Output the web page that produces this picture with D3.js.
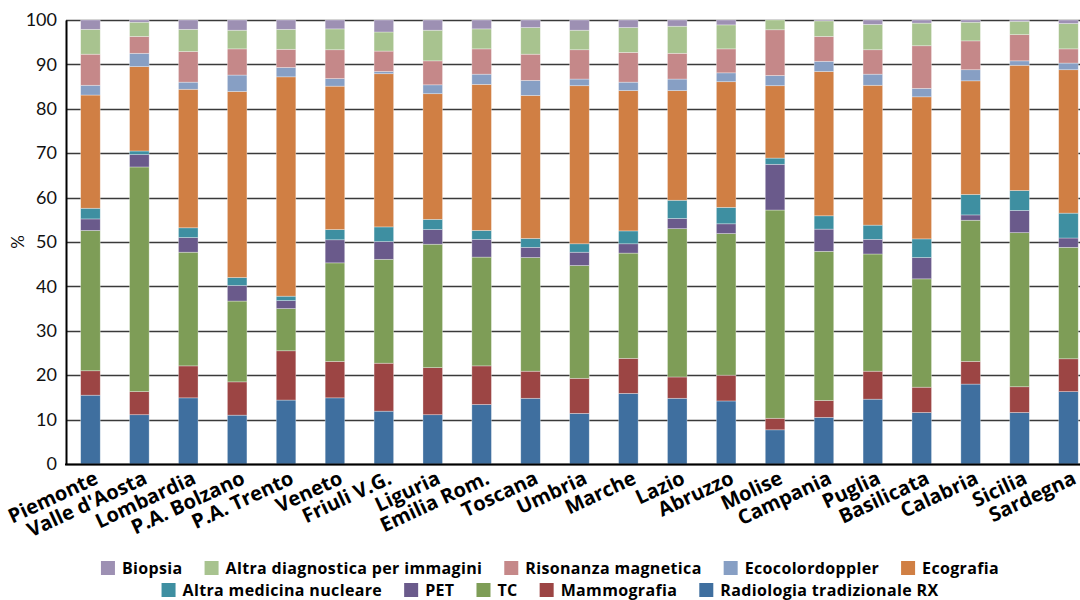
<!DOCTYPE html>
<html>
<head>
<meta charset="utf-8">
<script src="https://cdn.jsdelivr.net/npm/d3@7"></script>
<style>
  html, body { margin: 0; padding: 0; background: #fff; }
  svg { display: block; font-family: "Lato", "Open Sans", sans-serif; }
</style>
</head>
<body>
<svg id="chart" width="1080" height="600"></svg>
<script>
// Regions (x axis)
const regions = ["Piemonte", "Valle d'Aosta", "Lombardia", "P.A. Bolzano", "P.A. Trento", "Veneto",
  "Friuli V.G.", "Liguria", "Emilia Rom.", "Toscana", "Umbria", "Marche", "Lazio", "Abruzzo",
  "Molise", "Campania", "Puglia", "Basilicata", "Calabria", "Sicilia", "Sardegna"];

// Share (%) of each exam type per region, stacked from the bottom up
const radiologiaRX   = [15.5, 11.1, 14.9, 11.0, 14.4, 14.9, 11.9, 11.1, 13.4, 14.8, 11.4, 15.9, 14.8, 14.2,  7.7, 10.5, 14.6, 11.6, 18.0, 11.6, 16.3];
const mammografia    = [ 5.5,  5.2,  7.2,  7.5, 11.1,  8.2, 10.8, 10.6,  8.7,  6.1,  7.9,  7.9,  4.8,  5.8,  2.6,  3.8,  6.3,  5.7,  5.1,  5.8,  7.4];
const tc             = [31.6, 50.6, 25.6, 18.2,  9.5, 22.2, 23.4, 27.8, 24.5, 25.6, 25.4, 23.7, 33.4, 31.9, 46.9, 33.6, 26.4, 24.4, 31.8, 34.7, 25.1];
const pet            = [ 2.6,  2.8,  3.3,  3.5,  1.8,  5.2,  4.0,  3.3,  4.0,  2.3,  3.0,  2.1,  2.3,  2.2, 10.3,  5.0,  3.3,  4.8,  1.2,  5.0,  2.1];
const altraNucleare  = [ 2.4,  0.8,  2.2,  1.8,  1.0,  2.3,  3.3,  2.3,  2.0,  2.0,  1.9,  2.9,  4.1,  3.7,  1.4,  3.0,  3.2,  4.2,  4.6,  4.5,  5.6];
const ecografia      = [25.5, 19.0, 31.2, 41.9, 49.4, 32.3, 34.5, 28.3, 32.9, 32.2, 35.6, 31.6, 24.7, 28.3, 16.3, 32.5, 31.5, 32.0, 25.6, 28.2, 32.3];
const ecocolordoppler= [ 2.2,  3.0,  1.6,  3.7,  2.1,  1.7,  0.5,  2.0,  2.3,  3.4,  1.5,  1.9,  2.6,  2.0,  2.3,  2.3,  2.5,  1.9,  2.5,  1.0,  1.5];
const risonanza      = [ 7.0,  3.8,  6.9,  5.9,  4.1,  6.5,  4.6,  5.4,  5.7,  5.9,  6.6,  6.7,  5.8,  5.4, 10.3,  5.6,  5.5,  9.6,  6.5,  5.9,  3.2];
const altraDiagnost  = [ 5.6,  3.2,  5.0,  4.2,  4.5,  4.7,  4.3,  6.9,  4.5,  6.0,  4.4,  5.6,  6.1,  5.4,  2.2,  3.5,  5.7,  5.1,  4.2,  3.0,  5.7];
const biopsia        = [ 2.1,  0.5,  2.1,  2.3,  2.1,  2.0,  2.7,  2.3,  2.0,  1.7,  2.3,  1.7,  1.4,  1.1,  0.0,  0.2,  1.0,  0.7,  0.5,  0.3,  0.8];

// Y axis ticks
const yTicks = [0, 10, 20, 30, 40, 50, 60, 70, 80, 90, 100];

// Series, bottom of the stack first
const series = [
  { name: "Radiologia tradizionale RX", values: radiologiaRX,    color: "#3f6f9f" },
  { name: "Mammografia",                values: mammografia,     color: "#9c4544" },
  { name: "TC",                         values: tc,              color: "#7e9d57" },
  { name: "PET",                        values: pet,             color: "#6a5a8b" },
  { name: "Altra medicina nucleare",    values: altraNucleare,   color: "#3e8fa1" },
  { name: "Ecografia",                  values: ecografia,       color: "#d07f44" },
  { name: "Ecocolordoppler",            values: ecocolordoppler, color: "#879fc4" },
  { name: "Risonanza magnetica",        values: risonanza,       color: "#c58889" },
  { name: "Altra diagnostica per immagini", values: altraDiagnost, color: "#a8c38f" },
  { name: "Biopsia",                    values: biopsia,         color: "#9d90b3" }
];

// Legend rows, as laid out beneath the chart
const legendRows = [
  ["Biopsia", "Altra diagnostica per immagini", "Risonanza magnetica", "Ecocolordoppler", "Ecografia"],
  ["Altra medicina nucleare", "PET", "TC", "Mammografia", "Radiologia tradizionale RX"]
];

const svg = d3.select("#chart");
const margin = { left: 66, top: 20, bottom: 464 };
const step = 48.9;

const x = d3.scaleBand()
  .domain(regions)
  .range([margin.left, margin.left + step * regions.length])
  .paddingInner(0.6)
  .paddingOuter(0.3);

const y = d3.scaleLinear().domain([0, 100]).range([margin.bottom, margin.top]);

// Table for the stack layout
const table = regions.map((r, i) => {
  const row = { region: r };
  series.forEach(s => { row[s.name] = s.values[i]; });
  return row;
});
const stacked = d3.stack().keys(series.map(s => s.name))(table);

const xRight = margin.left + step * regions.length;

// Horizontal gridlines
svg.append("g")
  .selectAll("line")
  .data(yTicks)
  .join("line")
  .attr("x1", margin.left)
  .attr("x2", xRight)
  .attr("y1", d => Math.round(y(d)) + 0.5)
  .attr("y2", d => Math.round(y(d)) + 0.5)
  .attr("stroke", "#3a3a3a")
  .attr("stroke-width", 1.4);

// Stacked bars
svg.append("g")
  .selectAll("g")
  .data(stacked)
  .join("g")
  .attr("fill", (d, i) => series[i].color)
  .selectAll("rect")
  .data(d => d)
  .join("rect")
  .attr("x", d => x(d.data.region))
  .attr("width", x.bandwidth())
  .attr("y", d => y(d[1]))
  .attr("height", d => Math.max(0, y(d[0]) - y(d[1])))
  .attr("stroke", "rgba(255,255,255,0.45)")
  .attr("stroke-width", 0.7);

// Y axis
const yAxis = d3.axisLeft(y).tickValues(yTicks).tickSize(0).tickPadding(9);
const gy = svg.append("g")
  .attr("transform", `translate(${margin.left},0)`)
  .call(yAxis);
gy.select(".domain").attr("stroke", "#000").attr("stroke-width", 2);
gy.selectAll("text")
  .attr("font-family", "Lato, sans-serif")
  .attr("font-size", 18)
  .attr("fill", "#111");

// Bottom axis line
svg.append("line")
  .attr("x1", margin.left - 1)
  .attr("x2", xRight)
  .attr("y1", margin.bottom + 0.5)
  .attr("y2", margin.bottom + 0.5)
  .attr("stroke", "#000")
  .attr("stroke-width", 2);

// Rotated region labels
const xAxis = d3.axisBottom(x).tickSize(0).tickPadding(0);
const gx = svg.append("g")
  .attr("transform", `translate(0,${margin.bottom})`)
  .call(xAxis);
gx.select(".domain").remove();
gx.selectAll("text")
  .attr("font-family", "'Open Sans', sans-serif")
  .attr("font-weight", "bold")
  .attr("font-size", 20)
  .attr("fill", "#000")
  .attr("text-anchor", "end")
  .attr("dy", null)
  .attr("y", 0)
  .attr("transform", "translate(9,19) rotate(-25)");

// Y axis title
svg.append("text")
  .attr("transform", "translate(24,242) rotate(-90)")
  .attr("text-anchor", "middle")
  .attr("font-size", 17)
  .attr("fill", "#111")
  .text("%");

// Legend
const colorOf = name => series.find(s => s.name === name).color;
const legend = svg.append("g")
  .attr("font-family", "'Open Sans', sans-serif")
  .attr("font-weight", "bold")
  .attr("font-size", 16)
  .attr("letter-spacing", 0.35);
const rowY = [568, 590];
const sw = 14, swGap = 7, itemGap = 22, centerX = 550;
legendRows.forEach((row, ri) => {
  const g = legend.append("g");
  let cx = 0;
  row.forEach((name, k) => {
    const item = g.append("g").attr("transform", `translate(${cx},0)`);
    item.append("rect")
      .attr("x", 0).attr("y", rowY[ri] - sw / 2)
      .attr("width", sw).attr("height", sw)
      .attr("fill", colorOf(name));
    const t = item.append("text")
      .attr("x", sw + swGap).attr("y", rowY[ri])
      .attr("dy", "0.35em")
      .attr("fill", "#000")
      .text(name);
    cx += sw + swGap + t.node().getComputedTextLength() + itemGap;
  });
  const total = cx - itemGap;
  g.attr("transform", `translate(${centerX - total / 2},0)`);
});
</script>
</body>
</html>
